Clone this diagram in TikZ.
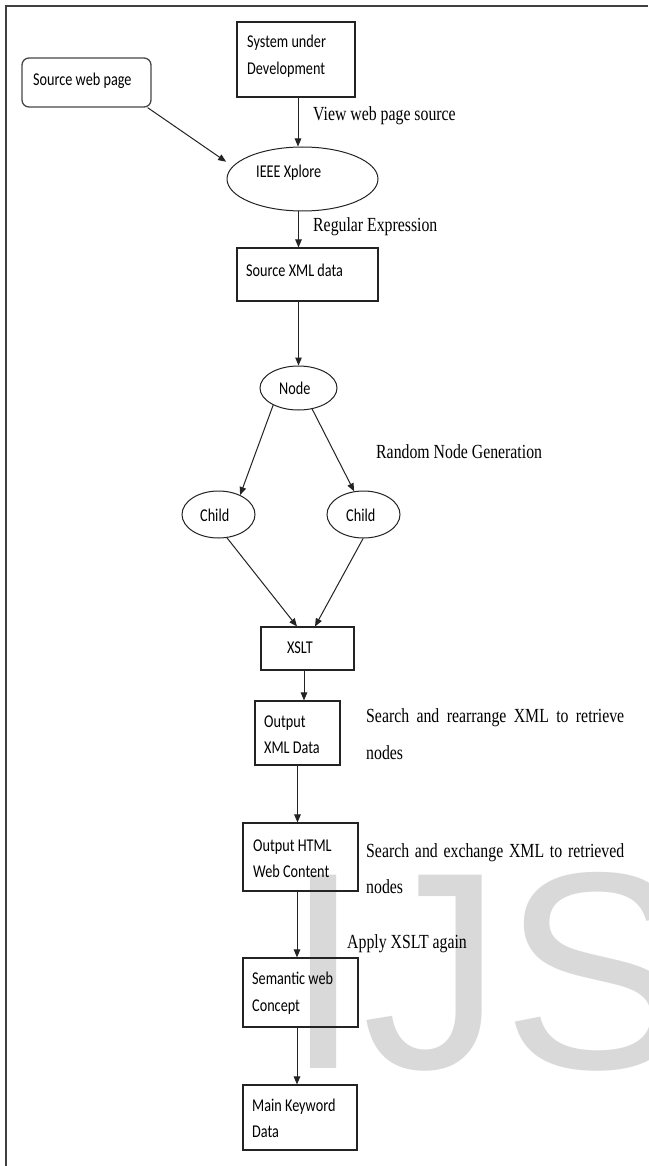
\documentclass[tikz,border=0pt]{standalone}
\usepackage{fontspec}
\setmainfont{Liberation Serif}
\newfontfamily\calfont{Carlito}
\newfontfamily\arialfont{Liberation Sans}
\usetikzlibrary{shapes.geometric,arrows.meta}
\definecolor{wmc}{RGB}{217,217,217}
\definecolor{linec}{RGB}{35,35,35}
\newcommand\hsq[1]{\scalebox{0.79}[1]{#1}}
\begin{document}
\begin{tikzpicture}[x=1pt,y=-1pt,
  box/.style={draw=linec, line width=1.1pt, inner sep=0pt},
  rbox/.style={draw=black!72, line width=1.3pt, rounded corners=7pt, inner sep=0pt},
  ell/.style={ellipse, draw=linec, line width=1pt, inner sep=0pt},
  ct/.style={anchor=base west, inner sep=0pt, font=\calfont\fontsize{18}{22}\selectfont},
  st/.style={anchor=base west, inner sep=0pt, font=\fontsize{20}{24}\selectfont},
  arr/.style={draw=linec, line width=1pt, -{Triangle[length=8pt,width=6.5pt]}}]
\useasboundingbox (0,0) rectangle (648,1166);
\fill[white] (0,0) rectangle (648,1166);
% watermark
\begin{scope}
\clip (0,0) rectangle (648,1166);
\node[anchor=base west, inner sep=0pt, text=wmc, font=\arialfont\fontsize{281}{281}\selectfont] (wm) at (284,1068) {IJS};
\end{scope}
% frame
\draw[draw=black!75, line width=2pt] (6,1166) -- (6,6.5) -- (648,6.5);
% shapes
\node[rbox, minimum width=129pt, minimum height=49pt] (src) at (86.5,82.5) {};
\node[box, minimum width=118pt, minimum height=75pt] (sys) at (296,59.5) {};
\node[ell, minimum width=151pt, minimum height=64pt] (ieee) at (302.5,179) {};
\node[box, minimum width=141pt, minimum height=53pt] (sxml) at (307.5,274.5) {};
\node[ell, minimum width=77pt, minimum height=44pt] (nd) at (298.5,388) {};
\node[ell, minimum width=73pt, minimum height=47pt] (chl) at (218.5,514.5) {};
\node[ell, minimum width=73pt, minimum height=47pt] (chr) at (363.5,514.5) {};
\node[box, minimum width=93pt, minimum height=43pt] (xslt) at (307.5,648.5) {};
\node[box, minimum width=85pt, minimum height=64pt] (oxml) at (297.5,733) {};
\node[box, minimum width=115pt, minimum height=68pt] (ohtml) at (300.5,857) {};
\node[box, minimum width=115pt, minimum height=69pt] (sem) at (300.5,992.5) {};
\node[box, minimum width=114pt, minimum height=65pt] (mkd) at (300,1117.5) {};
% texts in shapes
\node[ct] (t1) at (33,86) {\hsq{Source web page}};
\node[ct] (t2a) at (247,47.5) {\hsq{System under}};
\node[ct] (t2b) at (247,75) {\hsq{Development}};
\node[ct] (t3) at (256,178) {\hsq{IEEE Xplore}};
\node[ct] (t4) at (246,276) {\hsq{Source XML data}};
\node[ct] (t5) at (279,394) {\hsq{Node}};
\node[ct] (t6) at (200,521) {\hsq{Child}};
\node[ct] (t7) at (346,521) {\hsq{Child}};
\node[ct] (t8) at (287,653) {\hsq{XSLT}};
\node[ct] (t9a) at (264,727) {\hsq{Output}};
\node[ct] (t9b) at (264,753) {\hsq{XML Data}};
\node[ct] (t10a) at (253,851) {\hsq{Output HTML}};
\node[ct] (t10b) at (253,877) {\hsq{Web Content}};
\node[ct] (t11a) at (252,984) {\hsq{Semantic web}};
\node[ct] (t11b) at (252,1011) {\hsq{Concept}};
\node[ct] (t12a) at (252,1111) {\hsq{Main Keyword}};
\node[ct] (t12b) at (252,1137) {\hsq{Data}};
% serif labels
\node[st] (l1) at (313,121) {\hsq{View web page source}};
\node[st] (l2) at (313,232) {\hsq{Regular Expression}};
\node[st] (l3) at (376,458) {\hsq{Random Node Generation}};
\node[st] (l4a) at (366,722) {\hsq{\makebox[326.6pt][s]{Search and rearrange XML to retrieve}}};
\node[st] (l4b) at (366,759) {\hsq{nodes}};
\node[st] (l5a) at (366,857) {\hsq{\makebox[326.6pt][s]{Search and exchange XML to retrieved}}};
\node[st] (l5b) at (366,893) {\hsq{nodes}};
\node[st] (l6) at (347,948) {\hsq{Apply XSLT again}};
% connectors
\draw[arr] ([xshift=-4pt]src.south east) -- ([xshift=-12pt]ieee.165);
\draw[arr] ([xshift=2pt]sys.south) -- ([xshift=2pt]sys.south |- ieee.north);
\draw[arr] ([xshift=-4pt]ieee.south) -- ([xshift=-4pt]ieee.south |- sxml.north);
\draw[arr] (nd.north |- sxml.south) -- (nd.north);
\draw[arr] (nd.214) -- (chl.42);
\draw[arr] (nd.303) -- (chr.112);
\draw[arr] (chl.290) -- ([xshift=-10.5pt]xslt.north);
\draw[arr] (chr.269) -- ([xshift=7.5pt]xslt.north);
\draw[arr] ([xshift=-3.5pt]xslt.south) -- ([xshift=-3.5pt]xslt.south |- oxml.north);
\draw[arr] (oxml.south) -- (oxml.south |- ohtml.north);
\draw[arr] ([xshift=-3.5pt]ohtml.south) -- ([xshift=-3.5pt]ohtml.south |- sem.north);
\draw[arr] ([xshift=-3.5pt]sem.south) -- ([xshift=-3.5pt]sem.south |- mkd.north);
\end{tikzpicture}
\end{document}
